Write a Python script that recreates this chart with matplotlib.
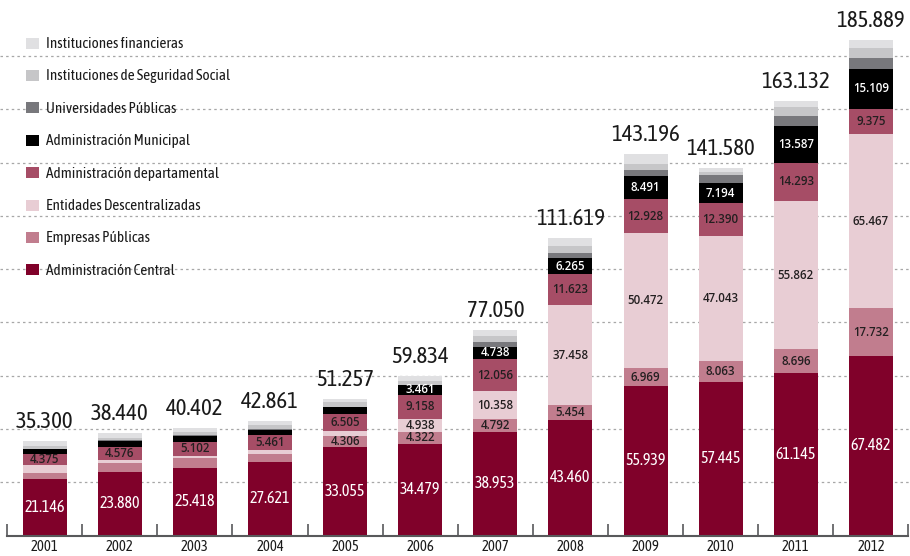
import matplotlib
matplotlib.use('Agg')
import matplotlib.pyplot as plt
import numpy as np
from matplotlib.patches import Rectangle

years = ['2001', '2002', '2003', '2004', '2005', '2006',
         '2007', '2008', '2009', '2010', '2011', '2012']

# stacked from the bottom up
central = [21146, 23880, 25418, 27621, 33055, 34479, 38953, 43460, 55939, 57445, 61145, 67482]
empresas = [2350, 3300, 3600, 2829, 4306, 4322, 4792, 5454, 6969, 8063, 8696, 17732]
entidades = [2850, 1310, 950, 1700, 1750, 4938, 10358, 37458, 50472, 47043, 55862, 65467]
departamental = [4375, 4576, 5102, 5461, 6505, 9158, 12056, 11623, 12928, 12390, 14293, 9375]
municipal = [1600, 2374, 2400, 2100, 2500, 3461, 4738, 6265, 8491, 7194, 13587, 15109]
universidades = [300, 300, 300, 300, 271, 276, 1753, 1909, 2247, 3000, 3759, 4024]
seguridad = [1079, 1000, 1150, 1600, 1620, 1500, 2050, 2450, 2550, 1200, 3520, 3700]
financieras = [1600, 1700, 1482, 1250, 1250, 1700, 2350, 3000, 3600, 1700, 2270, 3000]
totals = [35300, 38440, 40402, 42861, 51257, 59834, 77050, 111619, 143196, 141580, 163132, 185889]

series = [
    ('Administración Central', central, '#80012a', 0, 'white_narrow'),
    ('Empresas Públicas', empresas, '#c17d8e', 4, 'dark'),
    ('Entidades Descentralizadas', entidades, '#e8cdd4', 5, 'dark'),
    ('Administración departamental', departamental, '#a64d66', 0, 'dark'),
    ('Administración Municipal', municipal, '#000000', 5, 'white_bold'),
    ('Universidades Públicas', universidades, '#78787c', None, None),
    ('Instituciones de Seguridad Social', seguridad, '#c6c6c8', None, None),
    ('Instituciones financieras', financieras, '#e0e0e2', None, None),
]

narrow = ['Asap Condensed', 'DejaVu Sans']
semi = ['Open Sans', 'Lato', 'DejaVu Sans']
dark = '#231f20'


def fmt(v):
    return f'{v:,}'.replace(',', '.')


fig = plt.figure(figsize=(9.1, 5.56), dpi=100)
ax = fig.add_axes([0, 20.5 / 556, 1, 535.5 / 556])

x = np.arange(len(years))
width = 0.586
bottom = np.zeros(len(years))

for name, vals, color, first, style in series:
    vals = np.array(vals)
    ax.bar(x, vals, width, bottom=bottom, color=color, linewidth=0, zorder=2)
    if first is not None:
        for i in range(first, len(years)):
            yc = bottom[i] + vals[i] / 2
            if style == 'white_narrow':
                ax.text(x[i], yc, fmt(vals[i]), ha='center', va='center',
                        color='white', fontsize=11.5, family=narrow, zorder=3)
            elif style == 'white_bold':
                ax.text(x[i], yc, fmt(vals[i]), ha='center', va='center',
                        color='white', fontsize=8.3, fontweight='semibold',
                        family=semi, zorder=3)
            else:
                ax.text(x[i], yc, fmt(vals[i]), ha='center', va='center',
                        color=dark, fontsize=8.3, fontweight='semibold',
                        family=semi, zorder=3)
    bottom += vals

# totals above the bars
for i in range(len(years)):
    ax.annotate(fmt(totals[i]), (x[i], bottom[i]), xytext=(0, 9.5),
                textcoords='offset points', ha='center', va='baseline',
                fontsize=16.5, family=narrow, color='#1a1a1a')

ax.set_xlim(-0.595, 11.52)
ax.set_ylim(0, 201000)

ax.set_yticks(range(20000, 200000, 20000))
ax.yaxis.grid(True, color='#a7a7a7', linestyle=(0, (2, 2.5)), linewidth=0.9)
ax.set_axisbelow(True)
ax.tick_params(axis='y', length=0, labelleft=False)

for s in ['top', 'left', 'right']:
    ax.spines[s].set_visible(False)
ax.spines['bottom'].set_bounds(-0.5, 11.5)
ax.spines['bottom'].set_color('#58595b')
ax.spines['bottom'].set_linewidth(1.5)

ax.set_xticks(x)
ax.set_xticklabels(years, family=narrow, fontsize=10.5, color='#1a1a1a')
ax.tick_params(axis='x', which='major', length=0, pad=3.5)
ax.set_xticks(np.arange(-0.5, 12, 1), minor=True)
ax.tick_params(axis='x', which='minor', direction='in', length=8.6,
               width=1.2, color='#58595b')

# legend, top row first
for k, (name, vals, color, first, style) in enumerate(series[::-1]):
    yc = 43 + 32.4 * k
    fig.patches.append(Rectangle((26 / 910, 1 - (yc + 5.5) / 556), 13 / 910, 11 / 556,
                                 transform=fig.transFigure, color=color, linewidth=0))
    fig.text(46.5 / 910, 1 - (yc + 1) / 556, name, ha='left', va='center',
             fontsize=11, family=narrow, color='#1a1a1a')

fig.savefig('out.png', dpi=100)
